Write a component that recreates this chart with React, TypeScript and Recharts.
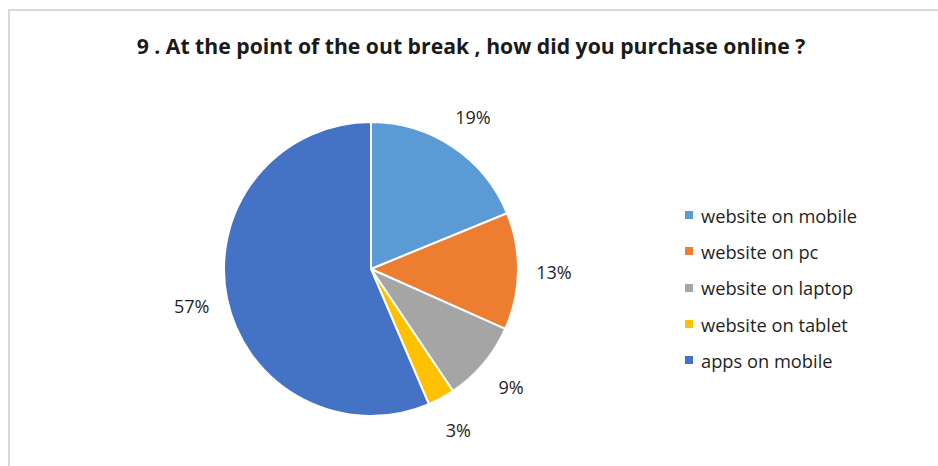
import { PieChart, Pie, Cell, Legend } from 'recharts';

const TITLE = '9 . At the point of the out break , how did you purchase online ?';

const categories = [
  'website on mobile',
  'website on pc',
  'website on laptop',
  'website on tablet',
  'apps on mobile',
];

const shares = [19, 13, 9, 3, 57];

const COLORS = [
  '#5b9bd5', // light blue
  '#ed7d31', // orange
  '#a5a5a5', // gray
  '#ffc000', // yellow
  '#4472c4', // blue
];

const data = categories.map((name, i) => ({ name, value: shares[i] }));

const FONT = '"Open Sans", "Noto Sans", sans-serif';
const RAD = Math.PI / 180;

interface LabelProps {
  cx: number;
  cy: number;
  midAngle: number;
  outerRadius: number;
  value: number;
}

function PctLabel({ cx, cy, midAngle, outerRadius, value }: LabelProps) {
  const r = outerRadius + 36;
  const x = cx + r * Math.cos(-midAngle * RAD);
  const y = cy + r * Math.sin(-midAngle * RAD);
  return (
    <text
      x={x}
      y={y}
      textAnchor="middle"
      dominantBaseline="central"
      fill="#1f1f1f"
      fontSize={18}
      fontFamily={FONT}
    >
      {value}%
    </text>
  );
}

function LegendList() {
  return (
    <div>
      {categories.map((name, i) => (
        <div
          key={name}
          style={{ display: 'flex', alignItems: 'center', height: 36.3 }}
        >
          <div
            style={{
              width: 8,
              height: 8,
              backgroundColor: COLORS[i],
              marginRight: 8,
            }}
          />
          <span style={{ fontSize: 18.3, color: '#1f1f1f', fontFamily: FONT }}>
            {name}
          </span>
        </div>
      ))}
    </div>
  );
}

export default function App() {
  return (
    <div
      style={{
        position: 'fixed',
        left: 0,
        top: 0,
        width: 938,
        height: 466,
        background: '#fff',
        overflow: 'hidden',
      }}
    >
      {/* chart frame */}
      <div
        style={{
          position: 'absolute',
          left: 8,
          top: 9,
          width: 1000,
          height: 600,
          borderLeft: '2px solid #d9d9d9',
          borderTop: '2px solid #d9d9d9',
        }}
      />
      <div
        style={{
          position: 'absolute',
          left: 0,
          top: 31,
          width: 938,
          textAlign: 'center',
          fontFamily: FONT,
          fontWeight: 700,
          fontSize: 21.2,
          lineHeight: '30px',
          color: '#1a1a1a',
          paddingLeft: 2,
        }}
      >
        {TITLE}
      </div>
      <div style={{ position: 'absolute', left: 0, top: 0 }}>
        <PieChart width={938} height={466} margin={{ top: 0, right: 0, bottom: 0, left: 0 }}>
          <Pie
            data={data}
            dataKey="value"
            nameKey="name"
            cx={371}
            cy={269}
            outerRadius={147}
            startAngle={90}
            endAngle={-270}
            stroke="#fff"
            strokeWidth={2}
            label={PctLabel}
            labelLine={false}
            isAnimationActive={false}
          >
            {data.map((_, i) => (
              <Cell key={`cell-${i}`} fill={COLORS[i]} />
            ))}
          </Pie>
          <Legend
            content={<LegendList />}
            wrapperStyle={{ position: 'absolute', left: 685, top: 197, width: 250 }}
          />
        </PieChart>
      </div>
    </div>
  );
}
